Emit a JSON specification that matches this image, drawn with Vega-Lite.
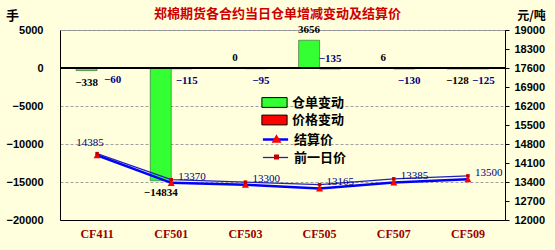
{
  "$schema": "https://vega.github.io/schema/vega-lite/v6.json",
  "width": 445,
  "height": 190,
  "autosize": {"type": "none"},
  "padding": {"left": 60, "top": 30, "right": 50, "bottom": 30},
  "background": "#FFFFDD",
  "title": {
    "text": "郑棉期货各合约当日仓单增减变动及结算价",
    "frame": "group",
    "anchor": "middle",
    "offset": 8,
    "dx": -5,
    "dy": 20,
    "font": "Noto Sans CJK SC",
    "fontSize": 13,
    "fontWeight": "bold",
    "color": "#CC0000"
  },
  "datasets": {
    "bars": [
      {"contract": "CF411", "type": "仓单变动", "value": -338},
      {"contract": "CF411", "type": "价格变动", "value": -60},
      {"contract": "CF501", "type": "仓单变动", "value": -14834},
      {"contract": "CF501", "type": "价格变动", "value": -115},
      {"contract": "CF503", "type": "仓单变动", "value": 0},
      {"contract": "CF503", "type": "价格变动", "value": -95},
      {"contract": "CF505", "type": "仓单变动", "value": 3656},
      {"contract": "CF505", "type": "价格变动", "value": -135},
      {"contract": "CF507", "type": "仓单变动", "value": 6},
      {"contract": "CF507", "type": "价格变动", "value": -130},
      {"contract": "CF509", "type": "仓单变动", "value": -128},
      {"contract": "CF509", "type": "价格变动", "value": -125}
    ],
    "prices": [
      {"contract": "CF411", "series": "结算价", "price": 14385},
      {"contract": "CF501", "series": "结算价", "price": 13370},
      {"contract": "CF503", "series": "结算价", "price": 13300},
      {"contract": "CF505", "series": "结算价", "price": 13165},
      {"contract": "CF507", "series": "结算价", "price": 13385},
      {"contract": "CF509", "series": "结算价", "price": 13500},
      {"contract": "CF411", "series": "前一日价", "price": 14445},
      {"contract": "CF501", "series": "前一日价", "price": 13485},
      {"contract": "CF503", "series": "前一日价", "price": 13395},
      {"contract": "CF505", "series": "前一日价", "price": 13300},
      {"contract": "CF507", "series": "前一日价", "price": 13515},
      {"contract": "CF509", "series": "前一日价", "price": 13625}
    ]
  },
  "layer": [
    {
      "data": {"name": "bars"},
      "encoding": {
        "y": {
          "field": "value",
          "type": "quantitative",
          "scale": {"domain": [-20000, 5000], "nice": false, "zero": false},
          "axis": {
            "orient": "left",
            "values": [-20000, -15000, -10000, -5000, 0, 5000],
            "format": "d",
            "title": "手",
            "titleAngle": 0,
            "titleX": -48,
            "titleY": -15,
            "titleAlign": "center",
            "titleBaseline": "middle",
            "titleFont": "Noto Sans CJK SC",
            "titleFontSize": 13,
            "titleFontWeight": "bold",
            "titleColor": "#000000",
            "grid": true,
            "gridColor": "#A0A0A0",
            "gridDash": [3, 2],
            "gridWidth": 1,
            "domainColor": "#000000",
            "domainWidth": 1,
            "ticks": false,
            "labelPadding": 17,
            "labelFont": "Liberation Sans",
            "labelFontSize": 11,
            "labelFontWeight": "bold",
            "labelColor": "#000000"
          }
        }
      },
      "layer": [
        {
          "mark": {"type": "bar", "stroke": "#333333", "strokeWidth": 0.5},
          "encoding": {
            "x": {
              "field": "contract",
              "type": "nominal",
              "sort": null,
              "scale": {"paddingInner": 0.434, "paddingOuter": 0.217},
              "axis": {
                "title": null,
                "orient": "bottom",
                "ticks": false,
                "domainColor": "#000000",
                "labelAngle": 0,
                "labelPadding": 8,
                "labelFont": "Liberation Serif",
                "labelFontSize": 12,
                "labelFontWeight": "bold",
                "labelColor": "#990000"
              }
            },
            "xOffset": {
              "field": "type",
              "type": "nominal",
              "sort": null,
              "scale": {"domain": ["仓单变动", "价格变动"], "paddingInner": 0}
            },
            "color": {
              "field": "type",
              "type": "nominal",
              "scale": {"domain": ["仓单变动", "价格变动"], "range": ["#33FF33", "#FF0000"]},
              "legend": {
                "title": null,
                "orient": "none",
                "legendX": 207,
                "legendY": 65,
                "symbolType": "M-1.8,-0.7H1.8V0.7H-1.8Z",
                "symbolSize": 196,
                "symbolStrokeColor": "#000000",
                "symbolStrokeWidth": 1,
                "labelOffset": 10,
                "rowPadding": 2.5
              }
            }
          }
        },
        {
          "mark": {"type": "rule", "color": "#000000", "strokeWidth": 1},
          "encoding": {"y": {"datum": 0, "type": "quantitative"}}
        },
        {
          "transform": [{"filter": "datum.type == '仓单变动' && datum.value < 0"}],
          "mark": {"type": "text", "baseline": "top", "dy": 6, "font": "Liberation Serif", "fontSize": 11, "fontWeight": "bold", "color": "#000000"},
          "encoding": {
            "x": {"field": "contract", "type": "nominal", "sort": null},
            "xOffset": {"field": "type", "type": "nominal", "sort": null},
            "text": {"field": "value", "type": "quantitative", "format": "d"}
          }
        },
        {
          "transform": [{"filter": "datum.type == '仓单变动' && datum.value >= 0"}],
          "mark": {"type": "text", "baseline": "bottom", "dy": -5, "font": "Liberation Serif", "fontSize": 11, "fontWeight": "bold", "color": "#000000"},
          "encoding": {
            "x": {"field": "contract", "type": "nominal", "sort": null},
            "xOffset": {"field": "type", "type": "nominal", "sort": null},
            "text": {"field": "value", "type": "quantitative", "format": "d"}
          }
        },
        {
          "transform": [{"filter": "datum.type == '价格变动' && datum.contract != 'CF505'"}],
          "mark": {"type": "text", "baseline": "top", "dy": 6, "dx": 5, "font": "Liberation Serif", "fontSize": 11, "fontWeight": "bold", "color": "#000080"},
          "encoding": {
            "x": {"field": "contract", "type": "nominal", "sort": null},
            "xOffset": {"field": "type", "type": "nominal", "sort": null},
            "text": {"field": "value", "type": "quantitative", "format": "d"}
          }
        },
        {
          "transform": [{"filter": "datum.type == '价格变动' && datum.contract == 'CF505'"}],
          "mark": {"type": "text", "baseline": "bottom", "dy": -5, "font": "Liberation Serif", "fontSize": 11, "fontWeight": "bold", "color": "#000080"},
          "encoding": {
            "x": {"field": "contract", "type": "nominal", "sort": null},
            "xOffset": {"field": "type", "type": "nominal", "sort": null},
            "text": {"field": "value", "type": "quantitative", "format": "d"}
          }
        }
      ]
    },
    {
      "data": {"name": "prices"},
      "encoding": {
        "x": {"field": "contract", "type": "nominal", "sort": null},
        "y": {
          "field": "price",
          "type": "quantitative",
          "scale": {"domain": [12000, 19000], "nice": false, "zero": false},
          "axis": {
            "orient": "right",
            "values": [12000, 12700, 13400, 14100, 14800, 15500, 16200, 16900, 17600, 18300, 19000],
            "format": "d",
            "title": "元/吨",
            "titleAngle": 0,
            "titleX": 26,
            "titleY": -15,
            "titleAlign": "center",
            "titleBaseline": "middle",
            "titleFont": "Noto Sans CJK SC",
            "titleFontSize": 12,
            "titleFontWeight": "bold",
            "titleColor": "#000000",
            "grid": false,
            "domainColor": "#000000",
            "tickColor": "#000000",
            "tickSize": 4,
            "labelPadding": 5,
            "labelFont": "Liberation Sans",
            "labelFontSize": 11,
            "labelFontWeight": "bold",
            "labelColor": "#000000"
          }
        }
      },
      "layer": [
        {
          "mark": {"type": "line"},
          "encoding": {
            "stroke": {
              "field": "series",
              "type": "nominal",
              "scale": {"domain": ["结算价", "前一日价"], "range": ["#0000FF", "#2222BB"]},
              "legend": {
                "title": null,
                "orient": "none",
                "legendX": 207,
                "legendY": 101,
                "symbolType": "M-1.8,0H1.8",
                "symbolSize": 196,
                "labelOffset": 10,
                "rowPadding": 2.5
              }
            },
            "strokeWidth": {
              "field": "series",
              "type": "nominal",
              "scale": {"type": "ordinal", "domain": ["结算价", "前一日价"], "range": [2.5, 1.3]}
            }
          }
        },
        {
          "mark": {"type": "point", "filled": true, "size": 50, "opacity": 1},
          "encoding": {
            "shape": {
              "field": "series",
              "type": "nominal",
              "scale": {"domain": ["前一日价", "结算价"], "range": ["M-0.5,-0.5H0.5V0.5H-0.5Z", "triangle-up"]},
              "legend": {
                "title": null,
                "orient": "none",
                "legendX": 210,
                "legendY": 102,
                "values": ["结算价", "前一日价"],
                "labelExpr": "''",
                "symbolFillColor": "#FF0000",
                "symbolStrokeWidth": 0,
                "rowPadding": 4.5
              }
            },
            "fill": {
              "field": "series",
              "type": "nominal",
              "scale": {"domain": ["前一日价", "结算价"], "range": ["#C00000", "#FF0000"]},
              "legend": null
            }
          }
        },
        {
          "transform": [{"filter": "datum.series == '结算价' && datum.contract != 'CF411'"}],
          "mark": {"type": "text", "align": "left", "baseline": "middle", "dx": 7, "dy": -6, "font": "Liberation Serif", "fontSize": 11, "color": "#000080"},
          "encoding": {"text": {"field": "price", "type": "quantitative", "format": "d"}}
        },
        {
          "transform": [{"filter": "datum.series == '结算价' && datum.contract == 'CF411'"}],
          "mark": {"type": "text", "align": "center", "baseline": "middle", "dx": -7, "dy": -12, "font": "Liberation Serif", "fontSize": 11, "color": "#000080"},
          "encoding": {"text": {"field": "price", "type": "quantitative", "format": "d"}}
        }
      ]
    }
  ],
  "resolve": {"scale": {"y": "independent"}},
  "config": {
    "view": {"stroke": "#888888"},
    "legend": {
      "padding": 0,
      "labelFont": "Noto Sans CJK SC",
      "labelFontSize": 13,
      "labelFontWeight": "bold",
      "labelColor": "#000000"
    }
  }
}
